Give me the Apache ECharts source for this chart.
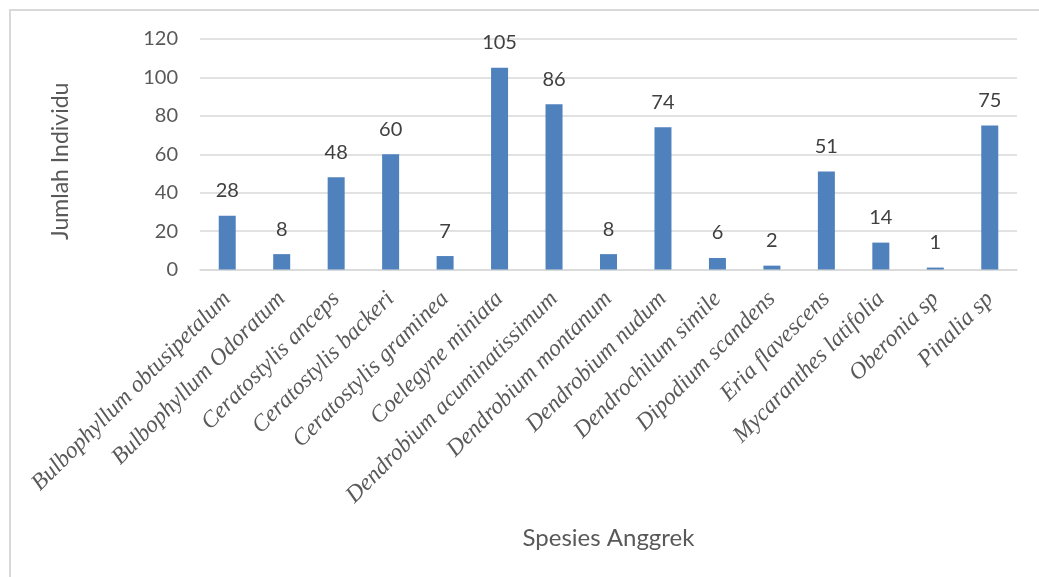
<!DOCTYPE html>
<html>
<head>
<meta charset="utf-8">
<script src="https://cdn.jsdelivr.net/npm/echarts@6/dist/echarts.min.js"></script>
<style>
  html, body { margin: 0; padding: 0; background: #fff; overflow: hidden; }
  #frame { position: absolute; left: 9px; top: 9px; width: 1100px; height: 600px;
           border-left: 2px solid #d9d9d9; border-top: 2px solid #d9d9d9; }
  #chart { position: absolute; left: 0; top: 0; width: 1039px; height: 577px; }
</style>
</head>
<body>
<div id="frame"></div>
<div id="chart"></div>
<script>
// Orchid species and individual counts
const categories = [
  'Bulbophyllum obtusipetalum', 'Bulbophyllum Odoratum', 'Ceratostylis anceps',
  'Ceratostylis backeri', 'Ceratostylis graminea', 'Coelegyne miniata',
  'Dendrobium acuminatissimum', 'Dendrobium montanum', 'Dendrobium nudum',
  'Dendrochilum simile', 'Dipodium scandens', 'Eria flavescens',
  'Mycaranthes latifolia', 'Oberonia sp', 'Pinalia sp'
];
const counts = [28, 8, 48, 60, 7, 105, 86, 8, 74, 6, 2, 51, 14, 1, 75];
const yTicks = { min: 0, max: 120, step: 20 };

const sansFont = 'Lato';
const serifFont = 'Liberation Serif';

const chart = echarts.init(document.getElementById('chart'));
chart.setOption({
  animation: false,
  grid: { left: 200, right: 22, top: 39, bottom: 307.5 },
  xAxis: {
    type: 'category',
    data: categories,
    name: 'Spesies Anggrek',
    nameLocation: 'middle',
    nameGap: 257,
    nameTextStyle: { fontFamily: sansFont, fontSize: 24, color: '#595959' },
    axisLine: { lineStyle: { color: '#d9d9d9', width: 1.5 } },
    axisTick: { show: false },
    axisLabel: {
      rotate: 45, interval: 0, margin: 26,
      fontFamily: serifFont, fontStyle: 'italic', fontSize: 23.5, color: '#595959'
    }
  },
  yAxis: {
    type: 'value',
    min: yTicks.min, max: yTicks.max, interval: yTicks.step,
    name: 'Jumlah Individu',
    nameLocation: 'middle',
    nameGap: 128,
    nameTextStyle: { fontFamily: sansFont, fontSize: 23, color: '#595959', padding: [0, 14, 0, 0] },
    axisLine: { show: false },
    axisTick: { show: false },
    axisLabel: { margin: 22, fontFamily: sansFont, fontSize: 20, color: '#595959' },
    splitLine: { lineStyle: { color: '#d9d9d9', width: 1.5 } }
  },
  series: [{
    type: 'bar',
    data: counts,
    barWidth: 17,
    itemStyle: { color: '#4f81bd' },
    label: {
      show: true, position: 'top', distance: 15,
      fontFamily: sansFont, fontSize: 20, color: '#404040'
    }
  }]
});
</script>
</body>
</html>
